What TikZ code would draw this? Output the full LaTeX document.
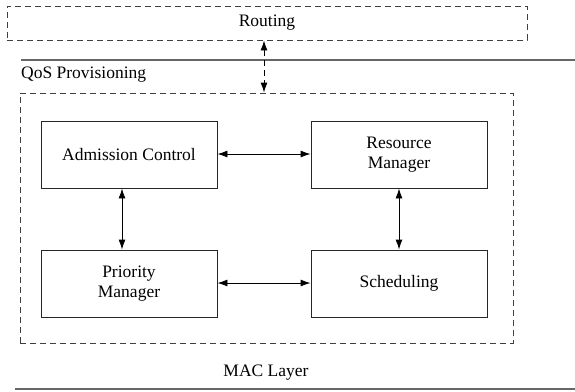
\documentclass[tikz,border=0pt]{standalone}
\usepackage{fontspec}
\setmainfont{Liberation Serif}
\usetikzlibrary{arrows.meta,calc}
\begin{document}
\begin{tikzpicture}[x=1pt,y=-1pt,
  font=\fontsize{17.5}{20.5}\selectfont,
  dashbox/.style={draw=black!75,line width=0.9pt,dash pattern=on 6pt off 4pt},
  blockbox/.style={draw=black!85,line width=0.9pt,minimum width=176pt,minimum height=67pt,inner sep=0pt,align=center},
  sepline/.style={draw=black!60,line width=1.3pt},
  biarrow/.style={line width=0.9pt,{Latex[length=10pt,width=7pt]}-{Latex[length=10pt,width=7pt]}}]
\useasboundingbox (0,0) rectangle (575,391);
\node[dashbox,minimum width=520pt,minimum height=34pt,inner sep=0pt] (routing) at (267,23) {Routing};
\draw[sepline] (21,60) -- (575,60);
\node[anchor=west,inner sep=0pt] (qos) at (21,75) {QoS Provisioning};
\node[dashbox,minimum width=493pt,minimum height=250pt,inner sep=0pt] (qosbox) at (266.5,218) {};
\node[blockbox] (ac) at (129,154.5) {Admission Control};
\node[blockbox] (rm) at (399,154.5) {Resource\\Manager};
\node[blockbox] (pm) at (129,283.5) {Priority\\Manager};
\node[blockbox] (sc) at (399,283.5) {Scheduling};
\draw[biarrow] (ac.east |- 0,154) -- (rm.west |- 0,154);
\draw[biarrow] (pm.east |- 0,283) -- (sc.west |- 0,283);
\draw[biarrow] (ac.south -| 122,0) -- (pm.north -| 122,0);
\draw[biarrow] (rm.south -| 399,0) -- (sc.north -| 399,0);
\draw[biarrow,dash pattern=on 6pt off 4pt] (routing.south -| 264,0) -- (qosbox.north -| 264,0);
\node[inner sep=0pt] (mac) at (266,373) {MAC Layer};
\draw[sepline] (15,389) -- (575,389);
\end{tikzpicture}
\end{document}
